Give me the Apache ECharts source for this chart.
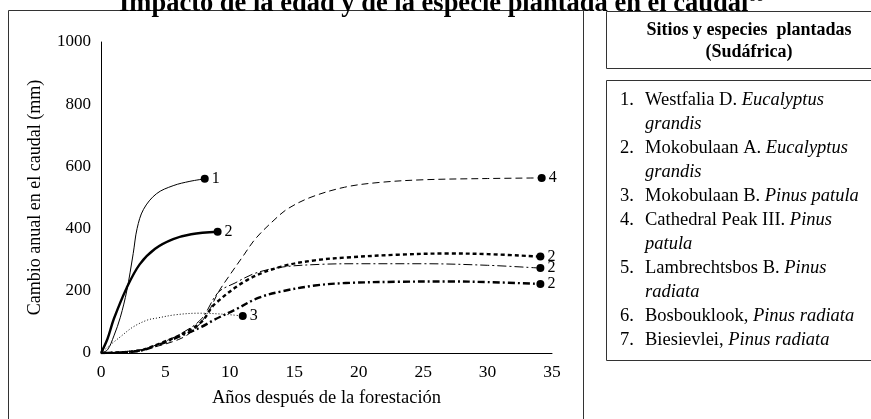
<!DOCTYPE html>
<html>
<head>
<meta charset="utf-8">
<script src="https://cdn.jsdelivr.net/npm/echarts@6/dist/echarts.min.js"></script>
<style>
  html, body { margin: 0; padding: 0; background: #fff; }
  #chart { width: 871px; height: 419px; }
</style>
</head>
<body>
<div id="chart"></div>
<script>
// curves: [años, cambio en el caudal (mm)]
const westfaliaD = [[0, 0], [0.5, 10], [1, 55], [1.5, 115], [2, 200], [2.5, 320], [2.8, 400], [3.3, 462], [4.3, 512], [5.6, 538], [6.9, 552], [8.05, 560]]
const mokobulaanA = [[0, 0], [0.5, 45], [1, 110], [2, 210], [3, 285], [4.2, 335], [5.6, 366], [7, 382], [9.05, 390]]
const mokobulaanB = [[0, 0], [0.6, 22], [1.5, 52], [2.5, 84], [3.6, 106], [4.3, 112], [5.8, 123], [7.6, 128], [9.4, 125], [11, 119]]
const cathedralPeak = [[0, 0], [3, 10], [6, 43], [7.3, 78], [8.3, 130], [9.1, 195], [9.9, 245], [11, 310], [12, 368], [13.5, 430], [14.5, 464], [16.3, 501], [18.9, 533], [21.5, 548], [25, 557], [30, 561], [34.2, 563]]
const lambrechtsbos = [[0, 0], [3, 8], [4.7, 33], [6.2, 59], [7.8, 100], [8.8, 156], [11.4, 236], [14, 278], [16.6, 298], [19, 307], [23, 316], [27, 320], [30, 318], [34.1, 310]]
const bosbouklook = [[0, 0], [3, 9], [4.7, 33], [6.2, 62], [7.8, 110], [9.1, 195], [10.4, 225], [12, 257], [14, 276], [17, 285], [20, 287], [25, 287], [30, 282], [34.1, 273]]
const biesievlei = [[0, 0], [3, 7], [4.7, 30], [6.2, 55], [7.8, 84], [8.8, 107], [10.4, 139], [12.2, 177], [14, 198], [16.6, 217], [19, 225], [23, 229], [27, 230], [30, 228], [34.1, 222]]
const endLabels = ['1', '2', '3', '4', '2', '2', '2']

// legend text: [plain part, italic on first line, italic on second line]
const sites = [
  ['Westfalia D. ', 'Eucalyptus', 'grandis'],
  ['Mokobulaan A. ', 'Eucalyptus', 'grandis'],
  ['Mokobulaan B. ', 'Pinus patula', ''],
  ['Cathedral Peak III. ', 'Pinus', 'patula'],
  ['Lambrechtsbos B. ', 'Pinus', 'radiata'],
  ['Bosbouklook, ', 'Pinus radiata', ''],
  ['Biesievlei, ', 'Pinus radiata', '']
]

const serif = '"Liberation Serif", "DejaVu Serif", serif'
const thin = 1
const thick = 2.4
const listSize = 18.5

function makeSeries (points, label, width, dash) {
  const data = points.map((p, i) => {
    if (i < points.length - 1) return p
    return {
      value: p,
      symbol: 'circle',
      symbolSize: 8,
      label: {
        show: true,
        formatter: label,
        position: 'right',
        distance: 3,
        color: '#000',
        fontFamily: serif,
        fontSize: 16
      }
    }
  })
  return {
    type: 'line',
    data,
    smooth: 0.35,
    symbol: 'none',
    itemStyle: { color: '#000' },
    lineStyle: { color: '#000', width, type: dash },
    emphasis: { disabled: true },
    animation: false
  }
}

const chart = echarts.init(document.getElementById('chart'), null, { renderer: 'canvas' })

const legendTexts = []
let row = 0
sites.forEach((s, i) => {
  const y = 100 + 24 * row
  legendTexts.push({
    type: 'text',
    x: 620,
    y,
    style: { text: (i + 1) + '.', font: listSize + 'px ' + serif, fill: '#000', verticalAlign: 'middle' }
  })
  legendTexts.push({
    type: 'text',
    x: 645,
    y,
    style: {
      text: '{p|' + s[0] + '}{i|' + s[1] + '}',
      verticalAlign: 'middle',
      rich: {
        p: { fontFamily: serif, fontSize: listSize, fill: '#000' },
        i: { fontFamily: serif, fontSize: listSize, fontStyle: 'italic', fill: '#000' }
      }
    }
  })
  row++
  if (s[2]) {
    legendTexts.push({
      type: 'text',
      x: 645,
      y: 100 + 24 * row,
      style: { text: s[2], font: 'italic ' + listSize + 'px ' + serif, fill: '#000', verticalAlign: 'middle' }
    })
    row++
  }
})

const option = {
  backgroundColor: '#fff',
  animation: false,
  title: {
    text: '{a|Impacto de la edad y de la especie plantada en el caudal}{b|66}',
    left: 114,
    top: -15,
    textStyle: {
      rich: {
        a: { fontFamily: serif, fontWeight: 'bold', fontSize: 26.5, color: '#000' },
        b: { fontFamily: serif, fontWeight: 'bold', fontSize: 15, color: '#000', verticalAlign: 'top', padding: [0, 0, 14, 0] }
      }
    }
  },
  grid: { left: 101, top: 42, right: 319, bottom: 66, containLabel: false },
  xAxis: {
    type: 'value',
    min: 0,
    max: 35,
    interval: 5,
    name: 'Años después de la forestación',
    nameLocation: 'middle',
    nameGap: 36,
    nameTextStyle: { fontFamily: serif, fontSize: 18.5, color: '#000' },
    axisLine: { lineStyle: { color: '#000', width: 1 } },
    axisTick: { show: false },
    splitLine: { show: false },
    axisLabel: { fontFamily: serif, fontSize: 17.5, color: '#000', margin: 10 }
  },
  yAxis: {
    type: 'value',
    min: 0,
    max: 1000,
    interval: 200,
    name: 'Cambio anual en el caudal (mm)',
    nameLocation: 'middle',
    nameGap: 57,
    nameTextStyle: { fontFamily: serif, fontSize: 18, color: '#000' },
    axisLine: { show: true, lineStyle: { color: '#000', width: 1 } },
    axisTick: { show: false },
    splitLine: { show: false },
    axisLabel: { fontFamily: serif, fontSize: 17, color: '#000', margin: 10, formatter: v => String(v) }
  },
  graphic: [
    { type: 'rect', shape: { x: 8.5, y: 10.5, width: 575, height: 420 }, style: { fill: 'none', stroke: '#333', lineWidth: 1 }, z: -1 },
    { type: 'rect', shape: { x: 606.5, y: 11.5, width: 280, height: 57 }, style: { fill: 'none', stroke: '#333', lineWidth: 1 } },
    { type: 'rect', shape: { x: 606.5, y: 80.5, width: 280, height: 280 }, style: { fill: 'none', stroke: '#333', lineWidth: 1 } },
    { type: 'text', x: 749, y: 30, style: { text: 'Sitios y especies  plantadas', font: 'bold 18px ' + serif, fill: '#000', align: 'center', verticalAlign: 'middle' } },
    { type: 'text', x: 749, y: 52, style: { text: '(Sudáfrica)', font: 'bold 18px ' + serif, fill: '#000', align: 'center', verticalAlign: 'middle' } }
  ].concat(legendTexts),
  series: [
    makeSeries(westfaliaD, endLabels[0], thin, 'solid'),
    makeSeries(mokobulaanA, endLabels[1], thick, 'solid'),
    makeSeries(mokobulaanB, endLabels[2], thin, [1, 2]),
    makeSeries(cathedralPeak, endLabels[3], thin, [7, 4]),
    makeSeries(lambrechtsbos, endLabels[4], thick, [4, 3]),
    makeSeries(bosbouklook, endLabels[5], thin, [9, 3, 2, 3]),
    makeSeries(biesievlei, endLabels[6], thick, [7, 3, 2, 3])
  ]
}

chart.setOption(option)
</script>
</body>
</html>
